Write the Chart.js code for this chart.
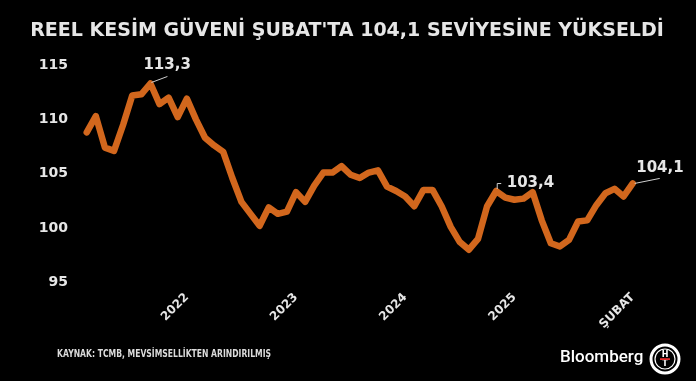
<!DOCTYPE html>
<html><head><meta charset="utf-8">
<script src="https://cdn.jsdelivr.net/npm/chart.js@4"></script>
<style>html,body{margin:0;padding:0;background:#000;}canvas{display:block}</style>
</head><body>
<canvas id="c" width="696" height="381"></canvas>
<script>
const months = [
 '2021-02','2021-03','2021-04','2021-05','2021-06','2021-07','2021-08','2021-09','2021-10','2021-11','2021-12',
 '2022-01','2022-02','2022-03','2022-04','2022-05','2022-06','2022-07','2022-08','2022-09','2022-10','2022-11','2022-12',
 '2023-01','2023-02','2023-03','2023-04','2023-05','2023-06','2023-07','2023-08','2023-09','2023-10','2023-11','2023-12',
 '2024-01','2024-02','2024-03','2024-04','2024-05','2024-06','2024-07','2024-08','2024-09','2024-10','2024-11','2024-12',
 '2025-01','2025-02','2025-03','2025-04','2025-05','2025-06','2025-07','2025-08','2025-09','2025-10','2025-11','2025-12',
 '2026-01','2026-02'
];
const values = [
 108.8,110.3,107.4,107.1,109.5,112.2,112.3,113.3,111.4,112.0,110.2,
 111.9,110.0,108.3,107.6,107.0,104.6,102.4,101.3,100.2,101.9,101.3,101.5,
 103.3,102.4,103.9,105.1,105.1,105.7,104.9,104.6,105.1,105.3,103.8,103.4,
 102.9,102.0,103.5,103.5,102.0,100.1,98.7,98.0,99.0,102.0,103.4,102.8,
 102.6,102.7,103.3,100.7,98.6,98.3,98.9,100.6,100.7,102.1,103.2,103.6,
 102.9,104.1
];
const tickMonths = ['2022-01','2023-01','2024-01','2025-01','2026-02'];
const tickLabels = ['2022','2023','2024','2025','ŞUBAT'];
const yTicks = [95,100,105,110,115];
const titleText = "REEL KESİM GÜVENİ ŞUBAT'TA 104,1 SEVİYESİNE YÜKSELDİ";
const sourceText = 'KAYNAK: TCMB, MEVSİMSELLİKTEN ARINDIRILMIŞ';
const brandText = 'Bloomberg';
const calloutMonths = ['2021-09','2024-11','2026-02'];
const calloutTexts = ['113,3','103,4','104,1'];

const TXT = '#e6e6e6';
const LINE = '#d2671d';

const decor = {
  id: 'decor',
  beforeDraw(chart) {
    const ctx = chart.ctx;
    ctx.save();
    ctx.fillStyle = '#000';
    ctx.fillRect(0, 0, chart.width, chart.height);
    ctx.restore();
  },
  afterDraw(chart) {
    const ctx = chart.ctx;
    const xs = chart.scales.x, ys = chart.scales.y;
    ctx.save();
    // title
    ctx.fillStyle = TXT;
    ctx.font = "bold 19px 'DejaVu Sans'";
    ctx.textAlign = 'center';
    ctx.textBaseline = 'middle';
    ctx.fillText(titleText, 347, 31, 637);
    // source
    ctx.textAlign = 'left';
    ctx.font = "bold 10.5px 'DejaVu Sans'";
    ctx.fillStyle = '#dcdcdc';
    ctx.fillText(sourceText, 57, 354, 214);
    // brand
    ctx.fillStyle = '#ffffff';
    ctx.font = "500 17px Roboto";
    ctx.textBaseline = 'alphabetic';
    ctx.fillText(brandText, 560, 362, 84);
    // logo
    const cx = 665, cy = 359;
    ctx.strokeStyle = '#ffffff';
    ctx.lineWidth = 3;
    ctx.beginPath(); ctx.arc(cx, cy, 14, 0, Math.PI * 2); ctx.stroke();
    ctx.lineWidth = 1.2;
    ctx.beginPath(); ctx.arc(cx, cy, 10, 0, Math.PI * 2); ctx.stroke();
    ctx.fillStyle = '#ffffff';
    ctx.font = "bold 8px 'DejaVu Sans'";
    ctx.textAlign = 'center';
    ctx.textBaseline = 'middle';
    ctx.fillText('H', cx, cy - 4.5);
    ctx.fillText('T', cx, cy + 5);
    ctx.fillStyle = '#e02a2a';
    ctx.fillRect(cx - 5, cy - 0.8, 10, 1.8);

    // callouts
    ctx.font = "bold 15px 'DejaVu Sans'";
    ctx.textAlign = 'left';
    ctx.textBaseline = 'middle';
    ctx.strokeStyle = '#cfcfcf';
    ctx.lineWidth = 1;
    calloutMonths.forEach((m, k) => {
      const i = months.indexOf(m);
      const px = xs.getPixelForValue(i), py = ys.getPixelForValue(values[i]);
      ctx.beginPath();
      if (k === 0) {
        ctx.moveTo(px + 1, py - 1); ctx.lineTo(px + 17, py - 7);
        ctx.stroke();
        ctx.fillStyle = TXT; ctx.fillText(calloutTexts[k], px - 7, py - 18);
      } else if (k === 1) {
        ctx.moveTo(px + 1, py - 2); ctx.lineTo(px + 1, py - 7.5); ctx.lineTo(px + 5, py - 7.5);
        ctx.stroke();
        ctx.fillStyle = TXT; ctx.fillText(calloutTexts[k], px + 10.5, py - 7.5);
      } else {
        ctx.moveTo(px + 2, py); ctx.lineTo(px + 27, py - 5);
        ctx.stroke();
        ctx.fillStyle = TXT; ctx.fillText(calloutTexts[k], px + 3.5, py - 15.5);
      }
    });
    ctx.restore();
  }
};

new Chart(document.getElementById('c'), {
  type: 'line',
  data: {
    datasets: [{
      data: values.map((v, i) => ({x: i, y: v})),
      borderColor: LINE,
      borderWidth: 6.5,
      pointRadius: 0,
      tension: 0,
      borderJoinStyle: 'round',
      borderCapStyle: 'round',
      clip: false
    }]
  },
  options: {
    responsive: false,
    animation: false,
    events: [],
    layout: {padding: {top: 65, right: 56, bottom: 38.7, left: 0}},
    plugins: {legend: {display: false}, tooltip: {enabled: false}},
    scales: {
      x: {
        type: 'linear', min: -0.74, max: 60.8,
        grid: {display: false, drawTicks: false},
        border: {display: false},
        afterBuildTicks: s => { s.ticks = tickMonths.map(m => ({value: months.indexOf(m)})); },
        afterFit: s => { s.height = 60; },
        ticks: {
          autoSkip: false, minRotation: 45, maxRotation: 45, padding: 8,
          color: TXT, font: {family: 'DejaVu Sans', weight: 'bold', size: 12},
          callback: (v, idx) => tickLabels[idx]
        }
      },
      y: {
        min: 95, max: 115,
        grid: {display: false, drawTicks: false},
        border: {display: false},
        afterBuildTicks: s => { s.ticks = yTicks.map(v => ({value: v})); },
        afterFit: s => { s.width = 80; },
        ticks: {padding: 12, color: TXT, font: {family: 'DejaVu Sans', weight: 'bold', size: 14}}
      }
    }
  },
  plugins: [decor]
});
</script>
</body></html>
